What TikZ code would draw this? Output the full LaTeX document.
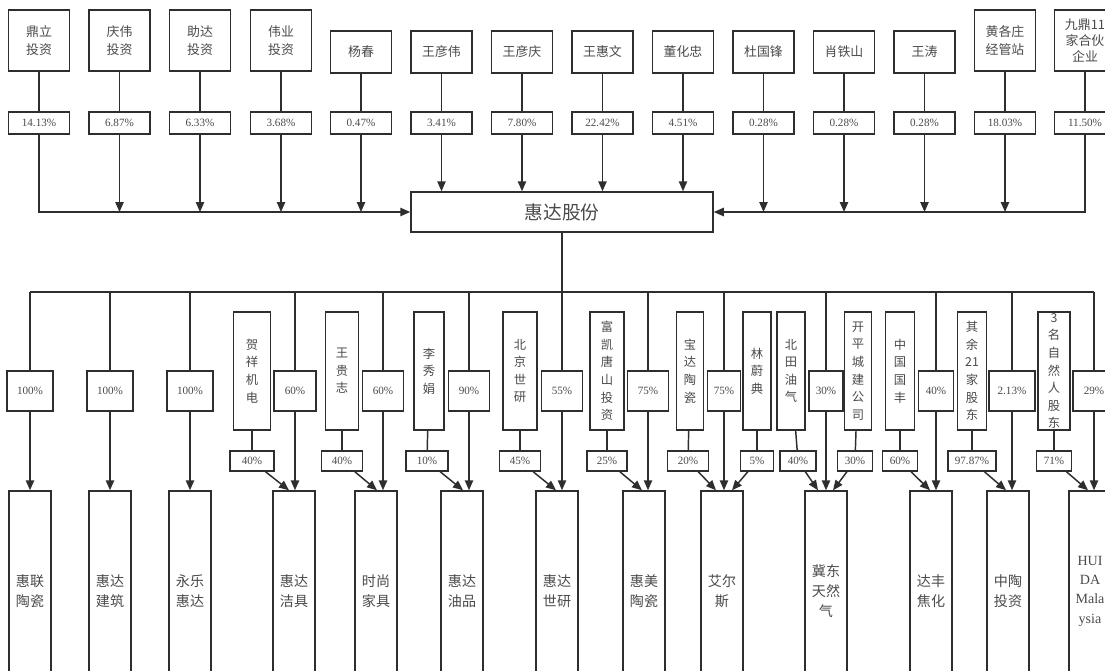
\documentclass[tikz,border=0pt]{standalone}
\usepackage{fontspec}
\setmainfont{Liberation Serif}
\newfontfamily\cjk{Noto Sans CJK SC}
\usetikzlibrary{arrows.meta}
\definecolor{box-border}{HTML}{2E2E2E}
\definecolor{box-text}{HTML}{4A4A4A}
\tikzset{
  holder/.style={
    draw=box-border, line width=1.25pt, inner sep=0pt,
    minimum width=1.83cm, minimum height=1.26cm, align=center,
    font=\cjk\fontsize{11}{15.5}\selectfont, text=box-text
  },
  share/.style={
    draw=box-border, line width=1.25pt, inner sep=0pt,
    minimum width=1.83cm, minimum height=0.66cm,
    font=\fontsize{9.5}{10}\selectfont, text=box-text
  },
  core/.style={
    draw=box-border, line width=1.25pt,
    minimum width=9.06cm, minimum height=1.2cm,
    font=\cjk\fontsize{16}{18}\selectfont, text=box-text
  },
  stake/.style={
    draw=box-border, line width=1.25pt, inner sep=0pt,
    minimum height=1.2cm, font=\fontsize{9.5}{10}\selectfont, text=box-text
  },
  partner/.style={
    draw=box-border, line width=1.25pt, inner xsep=0pt, inner ysep=0pt,
    minimum height=3.54cm, align=center,
    font=\cjk\fontsize{10.5}{15}\selectfont, text=box-text
  },
  minor/.style={
    draw=box-border, line width=1.25pt, inner sep=0pt,
    minimum height=0.6cm, font=\fontsize{9.5}{10}\selectfont, text=box-text
  },
  sub/.style={
    draw=box-border, line width=1.25pt, inner sep=0pt,
    minimum width=1.26cm, minimum height=6cm, align=center,
    font=\cjk\fontsize{12}{17}\selectfont, text=box-text
  },
  link/.style={draw=box-border, line width=1.25pt},
  flow/.style={link, -{Triangle[length=0.3cm, width=0.25cm]}}
}

\begin{document}
\begin{tikzpicture}[x=0.03cm, y=-0.03cm]

  \fill[white] (0,0) rectangle (1105,670);
  \useasboundingbox (0,0) rectangle (1105,670);

  % ---- Shareholders --------------------------------------------------------
  \node[holder, minimum height=1.83cm] (dl) at (39,40.5) {鼎立\\投资};
  \node[holder, minimum height=1.83cm] (qw) at (119.5,40.5) {庆伟\\投资};
  \node[holder, minimum height=1.83cm] (zd) at (200,40.5) {助达\\投资};
  \node[holder, minimum height=1.83cm] (wy) at (281,40.5) {伟业\\投资};
  \foreach \n/\t [count=\i from 4] in {yc/杨春, wyw/王彦伟, wyq/王彦庆,
      whw/王惠文, dhz/董化忠, dgf/杜国锋, xts/肖铁山, wt/王涛} {
    \node[holder] (\n) at (39+80.5*\i, 52) {\t};
  }
  \node[holder, minimum height=1.83cm] (hgz) at (1005,40.5) {黄各庄\\经管站};
  \node[holder, minimum height=1.83cm, font=\cjk\fontsize{11}{13.5}\selectfont]
    (jd) at (1085,40.5) {九鼎11\\家合伙\\企业};

  % ---- Holdings in percent -------------------------------------------------
  \coordinate (prow) at (0,123);
  \foreach \n/\p in {dl/14.13, qw/6.87, zd/6.33, wy/3.68, yc/0.47, wyw/3.41,
      wyq/7.80, whw/22.42, dhz/4.51, dgf/0.28, xts/0.28, wt/0.28,
      hgz/18.03, jd/11.50} {
    \node[share] (\n-p) at (\n |- prow) {\p\%};
    \draw[link] (\n) -- (\n-p);
  }

  % ---- Company -------------------------------------------------------------
  \node[core] (hd) at (562,212) {惠达股份};

  \draw[flow] (dl-p) |- (hd);
  \draw[flow] (jd-p) |- (hd);
  \foreach \n in {qw, zd, wy, yc}
    \draw[flow] (\n-p) -- (\n-p |- hd.west);
  \foreach \n in {wyw, wyq, whw, dhz}
    \draw[flow] (\n-p) -- (\n-p |- hd.north);
  \foreach \n in {dgf, xts, wt, hgz}
    \draw[flow] (\n-p) -- (\n-p |- hd.east);

  % ---- Subsidiaries --------------------------------------------------------
  \foreach \n/\x/\t in {hl/30/{惠联\\陶瓷}, hj/110/{惠达\\建筑},
      yl/190/{永乐\\惠达}, jj/294/{惠达\\洁具}, ss/376/{时尚\\家具},
      yp/462/{惠达\\油品}, sy/557/{惠达\\世研}, hm/644/{惠美\\陶瓷},
      aes/722/{艾尔\\斯}, jdq/826/{冀东\\天然\\气}, dfj/931/{达丰\\焦化},
      ztz/1008/{中陶\\投资}} {
    \node[sub] (\n) at (\x,591) {\t};
  }
  \node[sub, font=\fontsize{12}{16.5}\selectfont] (hdm) at (1090,591)
    {HUI\\DA\\Mala\\ysia};

  % ---- Stakes held by the company ------------------------------------------
  \coordinate (bus) at (0,292);
  \foreach \n/\x/\w/\p in {hl/30/46/100, hj/110/46/100, yl/190/46/100,
      jj/295/42/60, ss/383/41/60, yp/469/41/90, sy/562/41/55, hm/648/41/75,
      aes/724/33/75, jdq/826/34/30, dfj/936/35/40, ztz/1012/46/2.13,
      hdm/1094/42/29} {
    \node[stake, minimum width=\w*0.03cm] (\n-s) at (\x,391) {\p\%};
    \coordinate (\n-t) at (\n-s |- \n.north);
    \draw[flow] (\n-s) -- (\n-t);
  }
  \draw[link] (hd) -- (sy-s);
  \draw[link] (hl-s |- bus) -- (hdm-s |- bus);
  \foreach \n in {hl, hj, yl, jj, ss, yp, hm, aes, jdq, dfj, ztz, hdm}
    \draw[link] (\n-s |- bus) -- (\n-s);

  % ---- Other partners ------------------------------------------------------
  \foreach \n/\x/\w/\t in {jj-a/252/37/{贺\\祥\\机\\电},
      ss-a/342/33/{王\\贵\\志}, yp-a/429/30/{李\\秀\\娟},
      sy-a/520/34/{北\\京\\世\\研}, hm-a/607/34/{富\\凯\\唐\\山\\投\\资},
      aes-a/690/27/{宝\\达\\陶\\瓷}, aes-b/757/28/{林\\蔚\\典},
      jdq-a/791/28/{北\\田\\油\\气}, jdq-b/858/27/{开\\平\\城\\建\\公\\司},
      dfj-a/900/29/{中\\国\\国\\丰}, ztz-a/972/29/{其\\余\\21\\家\\股\\东},
      hdm-a/1054/32/{3\\名\\自\\然\\人\\股\\东}} {
    \node[partner, minimum width=\w*0.03cm] (\n) at (\x,371) {\t};
  }
  \foreach \n/\x/\w/\p in {jj-a/252/44/40, ss-a/342/41/40, yp-a/427/42/10,
      sy-a/520/41/45, hm-a/607/40/25, aes-a/688/41/20, aes-b/757/33/5,
      jdq-a/798/36/40, jdq-b/855/35/30, dfj-a/900/35/60, ztz-a/972/48/97.87,
      hdm-a/1054/35/71} {
    \node[minor, minimum width=\w*0.03cm] (\n-p) at (\x,461) {\p\%};
    \draw[link] (\n) -- (\n-p);
  }
  \foreach \a/\c/\s in {jj-a/jj/-6, ss-a/ss/-6, yp-a/yp/-6, sy-a/sy/-6,
      hm-a/hm/-6, aes-a/aes/-8, aes-b/aes/8, jdq-a/jdq/-8, jdq-b/jdq/7,
      dfj-a/dfj/-6, ztz-a/ztz/-6, hdm-a/hdm/-6}
    \draw[flow] (\a-p) -- ([xshift=\s*0.03cm]\c-t);

\end{tikzpicture}
\end{document}
